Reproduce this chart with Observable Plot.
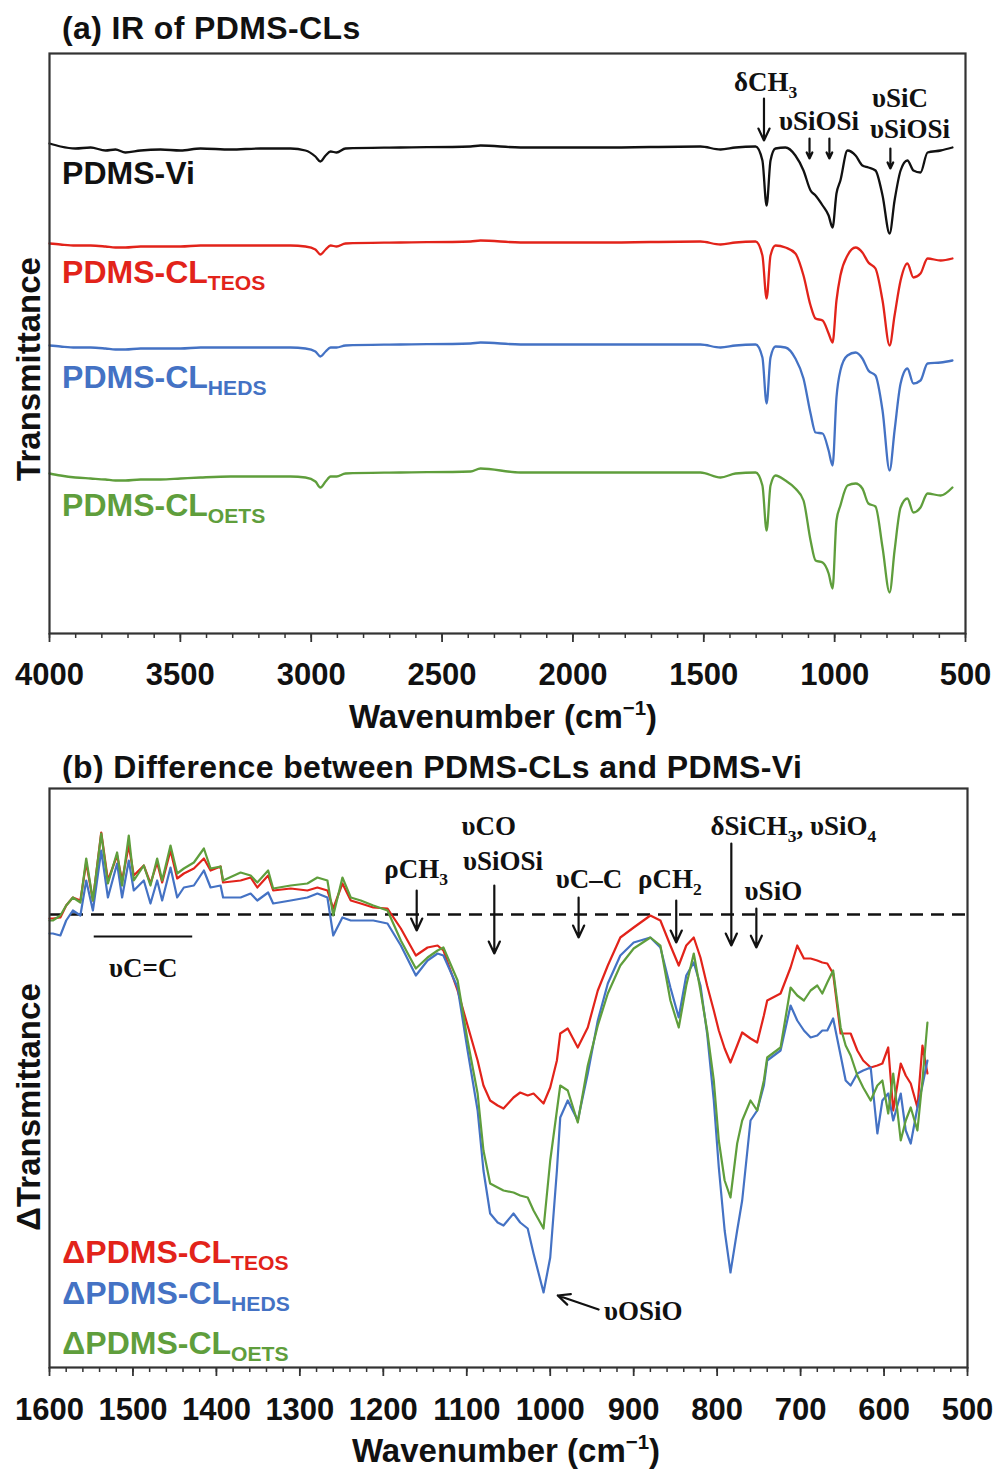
<!DOCTYPE html>
<html><head><meta charset="utf-8">
<script src="https://cdn.jsdelivr.net/npm/d3@7"></script>
<script src="https://cdn.jsdelivr.net/npm/@observablehq/plot@0.6"></script>
<style>
body{margin:0;background:#fff;}
#wrap{position:relative;width:997px;height:1472px;font-family:"Liberation Sans",Arial,sans-serif;}
.title{position:absolute;left:62px;font-weight:bold;font-size:32px;line-height:32px;letter-spacing:0.4px;white-space:nowrap;color:#111;}
#pa,#pb{position:absolute;left:0;}
</style></head><body>
<div id="wrap">
<div class="title" style="top:12px">(a) IR of PDMS-CLs</div>
<div id="pa" style="top:48px"></div>
<div class="title" style="top:751px">(b) Difference between PDMS-CLs and PDMS-Vi</div>
<div id="pb" style="top:783px"></div>
</div>
<script>
// ---------- (a) IR spectra (transmittance, a.u., stacked) ----------
const irWavenumber = [4000,3958,3901,3843,3786,3748,3710,3652,3576,3499,3423,3308,3194,3079,3022,2984,2965,2945,2926,2903,2869,2659,2391,2353,2200,1895,1513,1436,1379,1302,1276,1260,1245,1226,1188,1150,1119,1092,1073,1046,1023,1008,993,978,951,920,894,871,844,817,790,771,748,722,699,672,645,595,550];
const irVi   = [98.0,97.4,97.0,97.2,96.6,96.8,96.2,96.6,96.8,96.6,97.0,96.8,97.0,97.0,96.6,95.4,94.4,95.6,96.4,96.2,97.0,97.2,97.4,97.6,97.2,97.2,97.4,96.8,97.2,97.4,94.6,85.6,94.6,97.0,97.2,95.6,92.6,88.6,87.6,85.6,83.6,81.2,88.0,90.6,96.6,95.6,93.6,93.2,92.6,87.6,80.0,86.6,92.6,94.6,92.6,92.2,96.2,96.6,97.2];
const irTEOS = [78.0,77.8,77.6,77.6,77.4,77.2,77.2,77.4,77.4,77.4,77.6,77.6,77.6,77.6,77.4,76.8,75.8,76.8,77.6,77.4,78.0,78.2,78.4,78.6,78.2,78.2,78.4,77.8,78.2,78.4,75.6,67.0,75.6,77.6,77.2,76.0,71.6,65.6,63.0,62.6,60.0,58.2,66.6,71.6,75.6,77.2,76.2,74.2,73.0,66.6,57.6,63.6,70.6,74.0,71.2,72.0,75.0,74.6,75.0];
const irHEDS = [57.6,57.4,57.2,57.2,57.0,56.8,56.8,57.0,57.0,57.0,57.2,57.2,57.2,57.2,57.0,56.4,55.4,56.4,57.2,57.2,57.6,57.8,58.0,58.2,57.8,57.8,57.8,57.2,57.6,57.8,55.2,46.0,55.2,57.4,57.2,55.0,51.0,44.0,40.2,40.0,36.6,33.6,47.2,52.6,55.6,56.2,55.0,52.6,51.6,44.6,32.6,40.6,50.0,53.0,50.0,50.6,54.0,54.2,54.6];
const irOETS = [32.0,31.6,31.2,31.0,30.8,30.6,30.6,30.8,30.8,31.0,31.2,31.4,31.4,31.4,31.2,30.4,29.2,30.4,31.4,31.4,32.0,32.2,32.4,33.0,32.2,32.2,32.2,31.2,32.0,32.2,29.6,20.6,29.6,31.6,30.6,29.0,26.6,18.6,14.6,14.2,12.0,9.0,22.6,25.6,29.6,30.0,29.0,26.0,25.4,17.2,8.2,16.6,25.2,27.0,24.2,25.2,28.0,27.6,29.2];
const irSeries = ["PDMS-Vi","PDMS-CL_{TEOS}","PDMS-CL_{HEDS}","PDMS-CL_{OETS}"];
const irTicks = [4000,3500,3000,2500,2000,1500,1000,500];
const irMinorTicks = d3.range(500, 4001, 100);

// ---------- (b) difference spectra (ΔT, a.u.) ----------
const diffWavenumber = [1600,1596,1587,1580,1572,1563,1556,1548,1538,1530,1519,1513,1505,1499,1487,1479,1471,1465,1455,1447,1439,1427,1415,1407,1395,1392,1371,1359,1351,1338,1332,1311,1291,1279,1267,1260,1249,1239,1227,1212,1195,1179,1161,1147,1135,1128,1111,1099,1087,1080,1072,1063,1056,1044,1036,1027,1020,1008,1000,992,988,979,967,955,943,931,916,900,880,868,856,846,837,828,820,812,804,798,791,784,776,770,760,752,744,740,724,712,704,696,688,680,674,668,661,652,646,640,632,625,616,608,602,595,589,580,574,568,560,554,548];
const diffTEOS = [-0.4,-0.4,-0.3,0.9,1.7,1.4,5.2,1.4,8.2,3.4, 5.9,3.4,6.9,3.9,4.9,3.1,5.2,3.2,6.4,3.6, 4.1,4.6,5.6,4.4,4.8,3.2,3.4,3.7,2.7,3.9, 2.4,2.6,2.4,2.7,2.4,0.6,3.1,1.4,1.1,0.7, 0.6,-1.4,-4.1,-3.3,-3.1,-3.6,-7.6,-11.1,-14.6,-17.1, -18.6,-19.1,-19.4,-18.3,-17.8,-18.1,-17.9,-18.9,-17.3,-14.6, -11.9,-11.4,-13.3,-11.3,-7.6,-5.1,-2.3,-1.3,-0.1,-0.6, -3.1,-5.1,-3.1,-2.3,-4.3,-7.1,-9.6,-11.6,-13.4,-14.8, -13.1,-11.8,-12.4,-12.8,-10.1,-8.6,-7.9,-5.3,-3.1,-4.4, -4.4,-4.6,-4.8,-4.9,-5.9,-11.9,-11.9,-11.9,-13.6,-14.6, -15.3,-15.1,-14.9,-13.3,-19.6,-14.9,-16.1,-16.9,-19.3,-13.1,-15.9];
const diffHEDS = [-1.9,-1.9,-2.1,-0.6,0.4,-0.1,3.4,0.4,6.4,1.7, 5.1,1.7,5.4,2.4,3.4,1.1,3.4,1.4,4.7,1.7, 2.7,2.9,4.4,2.7,2.9,1.7,1.7,2.1,1.4,2.2, 1.1,1.4,1.7,2.1,1.7,-2.1,-0.3,-0.6,-0.6,-0.6, -0.9,-3.1,-6.1,-4.6,-3.9,-4.1,-7.3,-13.6,-19.6,-25.6, -29.9,-30.8,-31.1,-29.9,-30.8,-31.4,-33.9,-37.8,-34.3,-25.6, -20.3,-18.6,-20.6,-15.9,-10.6,-6.9,-4.1,-2.8,-2.3,-3.3, -7.3,-10.3,-6.1,-4.8,-7.1,-11.9,-18.6,-25.3,-31.6,-35.8, -31.6,-28.6,-20.6,-19.6,-17.1,-14.6,-13.6,-9.1,-10.6,-11.6, -12.3,-12.1,-11.6,-11.6,-10.4,-14.1,-16.6,-17.1,-15.9,-15.6, -15.3,-21.9,-18.6,-17.9,-20.6,-17.9,-21.6,-22.9,-19.3,-17.1,-14.6];
const diffOETS = [-0.6,-0.6,-0.1,0.9,1.7,1.2,5.6,1.4,8.1,3.1, 6.2,2.9,7.9,3.4,4.9,2.9,5.6,3.4,6.9,4.1, 4.6,5.2,6.6,4.6,4.8,3.4,4.2,3.9,3.2,4.4, 2.6,2.9,3.1,3.7,3.4,-0.1,3.7,1.7,1.4,0.9, 0.4,-2.6,-5.4,-4.3,-3.6,-3.3,-6.6,-12.6,-17.9,-23.6, -26.9,-27.3,-27.6,-27.8,-28.1,-28.3,-29.6,-31.4,-24.6,-19.6, -17.1,-17.6,-20.8,-15.1,-11.1,-7.9,-5.1,-3.4,-2.3,-3.1, -8.6,-11.3,-7.1,-3.9,-7.6,-11.6,-16.6,-22.6,-26.6,-28.3, -22.9,-20.6,-18.6,-19.6,-16.6,-14.3,-13.3,-7.3,-8.1,-8.6, -7.6,-7.1,-7.9,-6.8,-5.6,-11.3,-13.1,-14.1,-16.1,-17.3, -18.6,-17.1,-16.6,-19.9,-15.9,-22.6,-20.6,-19.3,-21.6,-16.6,-10.8];
const diffSeries = ["ΔPDMS-CL_{TEOS}","ΔPDMS-CL_{HEDS}","ΔPDMS-CL_{OETS}"];
const diffTicks = d3.range(500, 1601, 100);
const diffMinorTicks = d3.range(500, 1601, 20);

// ---------- styles ----------
const SANS = "'Liberation Sans', Arial, sans-serif";
const SERIF = "'Liberation Serif', 'Times New Roman', serif";
const irColors = ["#111111","#e2231a","#4472c4","#5f9e3c"];
const diffColors = ["#e2231a","#4472c4","#5f9e3c"];

// ---------- annotations (anchored in data coordinates) ----------
const irArrows = [
  {x: 1270, y1: 107.0, y2: 98.6},
  {x: 1096, y1: 99.0, y2: 95.0},
  {x: 1020, y1: 99.0, y2: 95.0},
  {x: 787,  y1: 97.0, y2: 93.0}
];
const irNotes = [
  {text: "δCH_{3}", wn: 1262, t: 108.4},
  {text: "υSiOSi", wn: 1058, t: 100.6},
  {text: "υSiC",   wn: 748,  t: 105.2},
  {text: "υSiOSi", wn: 710,  t: 99.0}
];
const irSeriesLabels = [
  {wn: 3950, t: 89.8}, {wn: 3950, t: 70.0}, {wn: 3950, t: 49.0}, {wn: 3950, t: 23.4}
];
const diffArrows = [
  {x1: 1160, x2: 1160, y1: 2.4, y2: -1.6},
  {x1: 1067, x2: 1067, y1: 2.9, y2: -3.9},
  {x1: 966,  x2: 966,  y1: 1.7, y2: -2.3},
  {x1: 849,  x2: 849,  y1: 1.4, y2: -2.8},
  {x1: 783,  x2: 783,  y1: 7.1, y2: -3.1},
  {x1: 753,  x2: 753,  y1: 0.6, y2: -3.3},
  {x1: 942,  x2: 991,  y1: -39.5, y2: -38.1}
];
const diffNotes = [
  {text: "ρCH_{3}", wn: 1160, t: 3.6, anchor: "middle"},
  {text: "υCO", wn: 1073, t: 7.9, anchor: "middle"},
  {text: "υSiOSi", wn: 1056, t: 4.4, anchor: "middle"},
  {text: "υC–C", wn: 953, t: 2.6, anchor: "middle"},
  {text: "ρCH_{2}", wn: 856, t: 2.6, anchor: "middle"},
  {text: "δSiCH_{3}, υSiO_{4}", wn: 708, t: 7.9, anchor: "middle"},
  {text: "υSiO", wn: 732, t: 1.4, anchor: "middle"},
  {text: "υC=C", wn: 1487, t: -6.3, anchor: "middle"},
  {text: "υOSiO", wn: 935, t: -40.6, anchor: "start"}
];
const ccBar = [{x1: 1547, x2: 1429, y: -2.2}];
const diffSeriesLabels = [{wn: 1584, t: -34.9}, {wn: 1584, t: -39.0}, {wn: 1584, t: -44.0}];

// ---------- helpers ----------
function richText(g, str, o) {
  const size = o.size;
  const t = g.append("text")
    .attr("x", o.x).attr("y", o.y)
    .attr("text-anchor", o.anchor || "middle")
    .attr("font-family", o.family).attr("font-size", size)
    .attr("font-weight", o.weight || "bold")
    .attr("fill", o.fill || "#111");
  if (o.spacing) t.attr("letter-spacing", o.spacing);
  if (o.rotate) t.attr("transform", `rotate(-90 ${o.x} ${o.y})`);
  const parts = str.split(/(_\{[^}]*\}|\^\{[^}]*\})/).filter(p => p);
  let cur = 0;
  parts.forEach(p => {
    let target = 0, txt = p, fs = null;
    if (p.startsWith("_{")) { target = size * (o.subShift || 0.25); txt = p.slice(2, -1); fs = size * (o.subScale || 0.65); }
    else if (p.startsWith("^{")) { target = -size * 0.4; txt = p.slice(2, -1); fs = size * 0.62; }
    const ts = t.append("tspan").attr("dy", target - cur).text(txt);
    if (fs) ts.attr("font-size", fs);
    cur = target;
  });
  return t;
}

// ---------- panel (a) ----------
const irRows = [irVi, irTEOS, irHEDS, irOETS].flatMap((vals, s) =>
  vals.map((t, i) => ({wn: irWavenumber[i], t, series: irSeries[s]})));

const plotA = Plot.plot({
  width: 997, height: 697,
  marginTop: 5, marginBottom: 112, marginLeft: 49, marginRight: 32,
  style: {fontFamily: SANS, color: "#111", background: "white"},
  x: {type: "linear", domain: [4000, 500], label: null},
  y: {domain: [0, 116], axis: null},
  color: {domain: irSeries, range: irColors},
  marks: [
    Plot.axisX({ticks: irMinorTicks, tickSize: 5, tickFormat: () => "", stroke: "#333", strokeWidth: 1.5, label: null}),
    Plot.axisX({ticks: irTicks, tickSize: 9, tickPadding: 20, fontSize: 31, fontWeight: "bold", stroke: "#333", strokeWidth: 1.8, tickFormat: d => String(d), label: null}),
    Plot.line(irRows, {x: "wn", y: "t", z: "series", stroke: "series", strokeWidth: 2.3, curve: "monotone-x"}),
    Plot.arrow(irArrows, {x: "x", y1: "y1", y2: "y2", stroke: "#111", strokeWidth: 2.2, headLength: 9, headAngle: 50}),
    Plot.frame({stroke: "#333", strokeWidth: 2.2})
  ]
});
document.getElementById("pa").appendChild(plotA);
{
  const g = d3.select(plotA).append("g");
  const sx = plotA.scale("x"), sy = plotA.scale("y");
  irNotes.forEach(n => richText(g, n.text, {x: sx.apply(n.wn), y: sy.apply(n.t), family: SERIF, size: 27, anchor: "middle"}));
  irSeriesLabels.forEach((p, i) => richText(g, irSeries[i], {x: sx.apply(p.wn), y: sy.apply(p.t), family: SANS, size: 32, anchor: "start", fill: irColors[i], subShift: 0.22, subScale: 0.66}));
  richText(g, "Transmittance", {x: 40, y: 321, family: SANS, size: 33, rotate: true});
  richText(g, "Wavenumber (cm^{−1})", {x: 503, y: 680, family: SANS, size: 33});
}

// ---------- panel (b) ----------
const diffRows = [diffTEOS, diffHEDS, diffOETS].flatMap((vals, s) =>
  vals.map((t, i) => ({wn: diffWavenumber[i], t, series: diffSeries[s]})));

const plotB = Plot.plot({
  width: 997, height: 689,
  marginTop: 5, marginBottom: 105, marginLeft: 49, marginRight: 30,
  style: {fontFamily: SANS, color: "#111", background: "white"},
  x: {type: "linear", domain: [1600, 500], label: null},
  y: {domain: [-45.3, 12.6], axis: null},
  color: {domain: diffSeries, range: diffColors},
  marks: [
    Plot.axisX({ticks: diffMinorTicks, tickSize: 5, tickFormat: () => "", stroke: "#333", strokeWidth: 1.5, label: null}),
    Plot.axisX({ticks: diffTicks, tickSize: 9, tickPadding: 21, fontSize: 31, fontWeight: "bold", stroke: "#333", strokeWidth: 1.8, tickFormat: d => String(d), label: null}),
    Plot.ruleY([0], {stroke: "#111", strokeWidth: 2.4, strokeDasharray: "13,8"}),
    Plot.line(diffRows, {x: "wn", y: "t", z: "series", stroke: "series", strokeWidth: 2.2, curve: "linear", strokeLinejoin: "round"}),
    Plot.arrow(diffArrows, {x1: "x1", x2: "x2", y1: "y1", y2: "y2", stroke: "#111", strokeWidth: 2.2, headLength: 9, headAngle: 50}),
    Plot.link(ccBar, {x1: "x1", x2: "x2", y1: "y", y2: "y", stroke: "#111", strokeWidth: 2.2}),
    Plot.frame({stroke: "#333", strokeWidth: 2.2})
  ]
});
document.getElementById("pb").appendChild(plotB);
{
  const g = d3.select(plotB).append("g");
  const sx = plotB.scale("x"), sy = plotB.scale("y");
  diffNotes.forEach(n => richText(g, n.text, {x: sx.apply(n.wn), y: sy.apply(n.t), family: SERIF, size: 27, anchor: n.anchor}));
  diffSeriesLabels.forEach((p, i) => richText(g, diffSeries[i], {x: sx.apply(p.wn), y: sy.apply(p.t), family: SANS, size: 32, anchor: "start", fill: diffColors[i], subShift: 0.22, subScale: 0.66}));
  richText(g, "ΔTransmittance", {x: 40, y: 324, family: SANS, size: 33, rotate: true});
  richText(g, "Wavenumber (cm^{−1})", {x: 506, y: 679, family: SANS, size: 33});
}
</script>
</body></html>
